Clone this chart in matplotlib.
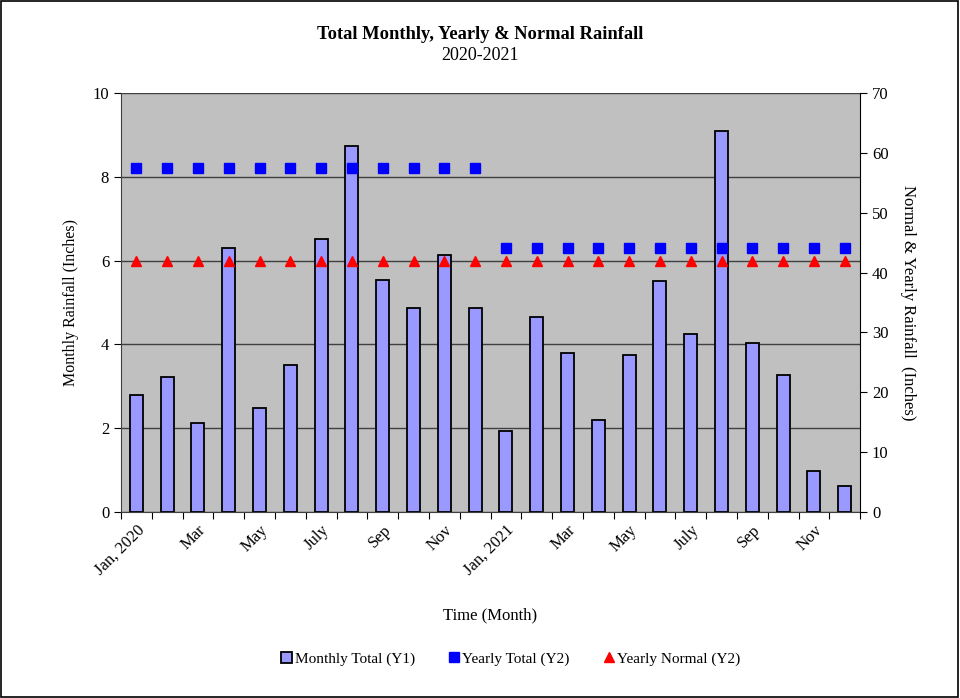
import matplotlib
matplotlib.use("Agg")
import matplotlib.pyplot as plt
import numpy as np
from matplotlib.lines import Line2D
from matplotlib.patches import Patch

months = ["Jan, 2020", "Feb", "Mar", "Apr", "May", "Jun", "July", "Aug", "Sep", "Oct", "Nov", "Dec",
          "Jan, 2021", "Feb", "Mar", "Apr", "May", "Jun", "July", "Aug", "Sep", "Oct", "Nov", "Dec"]
monthly_total = [2.79, 3.22, 2.12, 6.30, 2.48, 3.51, 6.52, 8.74, 5.54, 4.87, 6.13, 4.87,
                 1.93, 4.65, 3.79, 2.20, 3.75, 5.51, 4.25, 9.09, 4.03, 3.27, 0.98, 0.62]
yearly_total = [57.4] * 12 + [44.1] * 12
yearly_normal = [41.9] * 24

plt.rcParams['font.family'] = ['Liberation Serif', 'DejaVu Serif']

fig = plt.figure(figsize=(9.6, 6.98), dpi=100)
fig.patch.set_facecolor('white')
fig.patches.append(plt.Rectangle((0.001, 0.001), 0.997, 0.997, transform=fig.transFigure,
                                 fill=False, edgecolor='black', linewidth=1.2))

ax = fig.add_axes([0.126, 0.2665, 0.77, 0.6003])
ax.set_facecolor('#C0C0C0')
x = np.arange(len(months))
ax.bar(x, monthly_total, width=0.42, color='#9999FF', edgecolor='black', linewidth=1.3, zorder=3)
ax.set_ylim(0, 10)
ax.set_xlim(-0.5, len(months) - 0.5)
ax.set_yticks([0, 2, 4, 6, 8, 10])
ax.grid(axis='y', color='#404040', linewidth=1.0, zorder=1)
ax.set_xticks(np.arange(-0.5, len(months), 1.0))
ax.set_xticklabels([])
ax.set_xticks(x[::2], minor=True)
ax.set_xticklabels([months[i] for i in x[::2]], minor=True, rotation=45, ha='right',
                   rotation_mode='anchor', fontsize=12)
ax.tick_params(axis='x', which='minor', length=0, pad=7)
ax.tick_params(axis='x', which='major', length=5, direction='out')
ax.tick_params(axis='y', labelsize=12, length=5, direction='out')
for s in ['top', 'right']:
    ax.spines[s].set_visible(False)
ax.spines['left'].set_color('#404040')
ax.spines['bottom'].set_color('#404040')
ax.set_ylabel('Monthly Rainfall (Inches)', fontsize=11.5, labelpad=10)

ax2 = ax.twinx()
ax2.set_ylim(0, 70)
ax2.set_yticks(range(0, 71, 10))
ax2.plot(x, yearly_total, linestyle='none', marker='s', markersize=7, color='#0000FF', zorder=5)
ax2.plot(x, yearly_normal, linestyle='none', marker='^', markersize=7, color='#FF0000', zorder=5)
ax2.tick_params(axis='y', labelsize=12, length=5, direction='out')
for s in ['top', 'left', 'bottom']:
    ax2.spines[s].set_visible(False)
ax2.spines['right'].set_color('black')
ax2.set_ylabel('Normal & Yearly Rainfall  (Inches)', fontsize=12, rotation=270, labelpad=20)

fig.text(0.5, 0.951, 'Total Monthly, Yearly & Normal Rainfall', ha='center', va='center',
         fontsize=13.3, fontweight='bold')
fig.text(0.5, 0.921, '2020-2021', ha='center', va='center', fontsize=13)
fig.text(0.511, 0.119, 'Time (Month)', ha='center', va='center', fontsize=12)

handles = [Patch(facecolor='#9999FF', edgecolor='black', linewidth=1.3),
           Line2D([], [], linestyle='none', marker='s', markersize=7, color='#0000FF'),
           Line2D([], [], linestyle='none', marker='^', markersize=7, color='#FF0000')]
labels = ['Monthly Total (Y1)', 'Yearly Total (Y2)', 'Yearly Normal (Y2)']
fig.legend(handles, labels, loc='center', bbox_to_anchor=(0.532, 0.056), ncol=3, frameon=False,
           fontsize=11, handlelength=0.7, handletextpad=0.2, columnspacing=2.2)

fig.savefig('out.png', dpi=100)
